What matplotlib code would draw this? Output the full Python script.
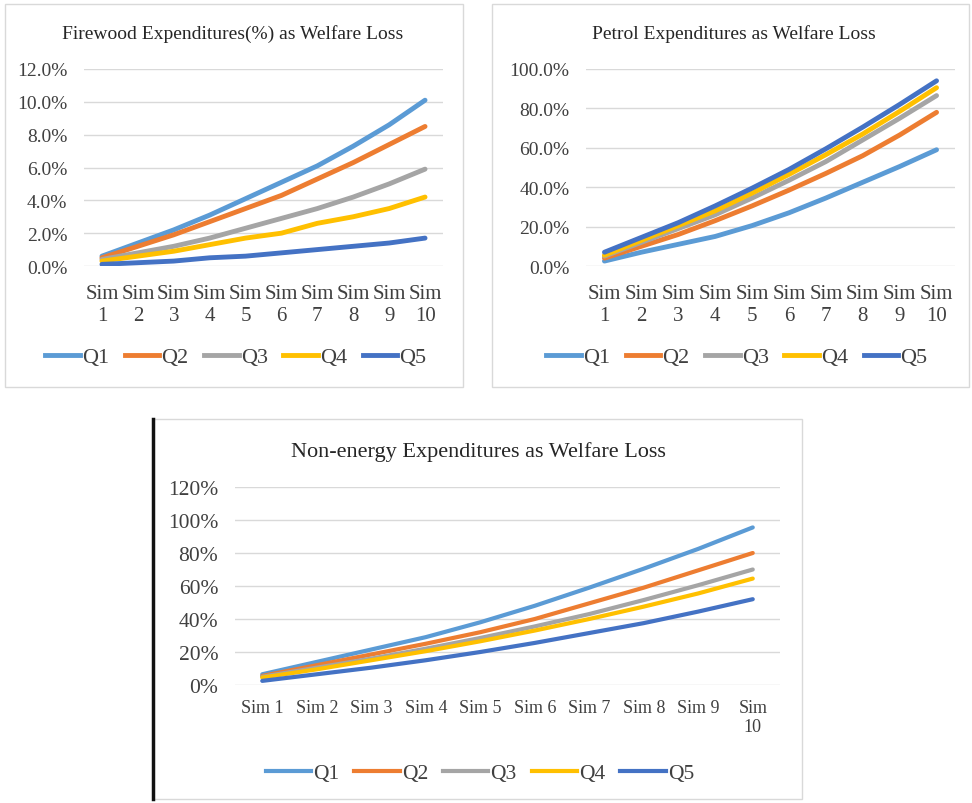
import numpy as np
import matplotlib.pyplot as plt
from matplotlib.patches import Rectangle
from matplotlib.lines import Line2D
from matplotlib.ticker import FuncFormatter

# --- data ---
sims = ["Sim 1", "Sim 2", "Sim 3", "Sim 4", "Sim 5", "Sim 6", "Sim 7", "Sim 8", "Sim 9", "Sim 10"]
quintiles = ["Q1", "Q2", "Q3", "Q4", "Q5"]
colors = ["#5B9BD5", "#ED7D31", "#A5A5A5", "#FFC000", "#4472C4"]

# Firewood expenditures (%)
fw_q1 = [0.6, 1.4, 2.2, 3.1, 4.1, 5.1, 6.1, 7.3, 8.6, 10.1]
fw_q2 = [0.5, 1.2, 1.9, 2.7, 3.5, 4.3, 5.3, 6.3, 7.4, 8.5]
fw_q3 = [0.4, 0.8, 1.2, 1.7, 2.3, 2.9, 3.5, 4.2, 5.0, 5.9]
fw_q4 = [0.3, 0.6, 0.9, 1.3, 1.7, 2.0, 2.6, 3.0, 3.5, 4.2]
fw_q5 = [0.1, 0.2, 0.3, 0.5, 0.6, 0.8, 1.0, 1.2, 1.4, 1.7]

# Petrol expenditures (%)
pe_q1 = [2.5, 7, 11, 15, 20.5, 27, 34.5, 42.5, 50.5, 59]
pe_q2 = [4, 10, 16, 23, 30.5, 38.5, 47, 56, 66.5, 78]
pe_q3 = [5, 12, 19, 26, 34.5, 43.5, 53, 64, 75, 86.5]
pe_q4 = [5.5, 13, 20.5, 28, 37, 46.5, 56.5, 67, 78.5, 90.5]
pe_q5 = [7, 14.5, 22, 30.5, 39.5, 49, 59.5, 70.5, 82, 94]

# Non-energy expenditures (%)
ne_q1 = [6.5, 14, 21.5, 29, 38, 48, 59, 70.5, 82.5, 95.5]
ne_q2 = [5.5, 12, 18.5, 25, 32, 40, 49.5, 59, 69.5, 80]
ne_q3 = [5, 10.5, 16, 22, 28.5, 35.5, 43, 51.5, 60.5, 70]
ne_q4 = [4.5, 9.5, 15, 20.5, 26.5, 33, 40, 47.5, 55.5, 64.5]
ne_q5 = [2.5, 6.5, 10.5, 15, 20, 25.5, 31.5, 37.5, 44.5, 52]

plt.rcParams['font.family'] = ['Liberation Serif', 'DejaVu Serif']

W, H = 972, 804
fig = plt.figure(figsize=(W / 100, H / 100), dpi=100)


def fbox(x0, y0, x1, y1):
    # pixel box (top-left origin) -> figure rect
    return [x0 / W, 1 - y1 / H, (x1 - x0) / W, (y1 - y0) / H]


def panel(ax_px, series, title, title_xy, ymax, ystep, fmt, xlabels, lw,
          fs_title, fs_y, fs_x, fs_leg, leg_xy, hlen, xpad):
    ax = fig.add_axes(fbox(*ax_px))
    x = np.arange(len(sims))
    for vals, c, q in zip(series, colors, quintiles):
        ax.plot(x, np.array(vals) / 100, color=c, lw=lw, label=q, solid_capstyle='round')
    ax.set_xlim(-0.5, len(sims) - 0.5)
    ax.set_ylim(0, ymax)
    ax.set_yticks(np.arange(0, ymax + 1e-9, ystep))
    ax.yaxis.set_major_formatter(FuncFormatter(fmt))
    ax.set_xticks(x)
    ax.set_xticklabels(xlabels, fontsize=fs_x, color='#404040', linespacing=1.2)
    ax.tick_params(length=0, labelcolor='#404040')
    ax.tick_params(axis='x', pad=xpad)
    ax.tick_params(axis='y', pad=12, labelsize=fs_y)
    ax.grid(axis='y', color='#D9D9D9', lw=1)
    ax.set_axisbelow(True)
    for s in ax.spines.values():
        s.set_visible(False)
    fig.text(title_xy[0] / W, 1 - title_xy[1] / H, title, ha='center', va='center',
             fontsize=fs_title, color='#262626')
    fig.legend(handles=[Line2D([], [], color=c, lw=lw) for c in colors], labels=quintiles,
               loc='center', bbox_to_anchor=(leg_xy[0] / W, 1 - leg_xy[1] / H), ncol=5,
               frameon=False, fontsize=fs_leg, handlelength=hlen, handletextpad=0.1,
               columnspacing=0.7, labelcolor='#404040')
    return ax


two_line = [s.replace(" ", "\n") for s in sims]
bottom_labels = sims[:-1] + ["Sim\n10"]

# panel frames
fig.patches.append(Rectangle((5 / W, 1 - 388 / H), 458 / W, 383 / H, transform=fig.transFigure,
                             fill=False, ec='#D9D9D9', lw=1))
fig.patches.append(Rectangle((492 / W, 1 - 388 / H), 477 / W, 383 / H, transform=fig.transFigure,
                             fill=False, ec='#D9D9D9', lw=1))
fig.patches.append(Rectangle((153 / W, 1 - 800 / H), 649 / W, 380 / H, transform=fig.transFigure,
                             fill=False, ec='#D9D9D9', lw=1))
fig.lines.append(Line2D([153 / W, 153 / W], [1 - 800 / H, 1 - 420 / H], transform=fig.transFigure,
                        color='#111111', lw=2.5))

panel((84, 70, 443, 267), [fw_q1, fw_q2, fw_q3, fw_q4, fw_q5],
      "Firewood Expenditures(%) as Welfare Loss", (233, 34), 0.12, 0.02,
      lambda v, p: f"{v * 100:.1f}%", two_line, 3.5, 14, 14, 15, 16, (236, 358), 1.55, 13)

panel((586, 70, 955, 267), [pe_q1, pe_q2, pe_q3, pe_q4, pe_q5],
      "Petrol Expenditures as Welfare Loss", (734, 34), 1.0, 0.2,
      lambda v, p: f"{v * 100:.1f}%", two_line, 3.5, 14, 14, 15, 16, (737, 358), 1.55, 13)

panel((235, 488, 780, 686), [ne_q1, ne_q2, ne_q3, ne_q4, ne_q5],
      "Non-energy Expenditures as Welfare Loss", (478, 452), 1.2, 0.2,
      lambda v, p: f"{v * 100:.0f}%", bottom_labels, 3, 16, 15.5, 13, 15.5, (480, 774), 2.1, 10)

fig.savefig("out.png", dpi=100)
